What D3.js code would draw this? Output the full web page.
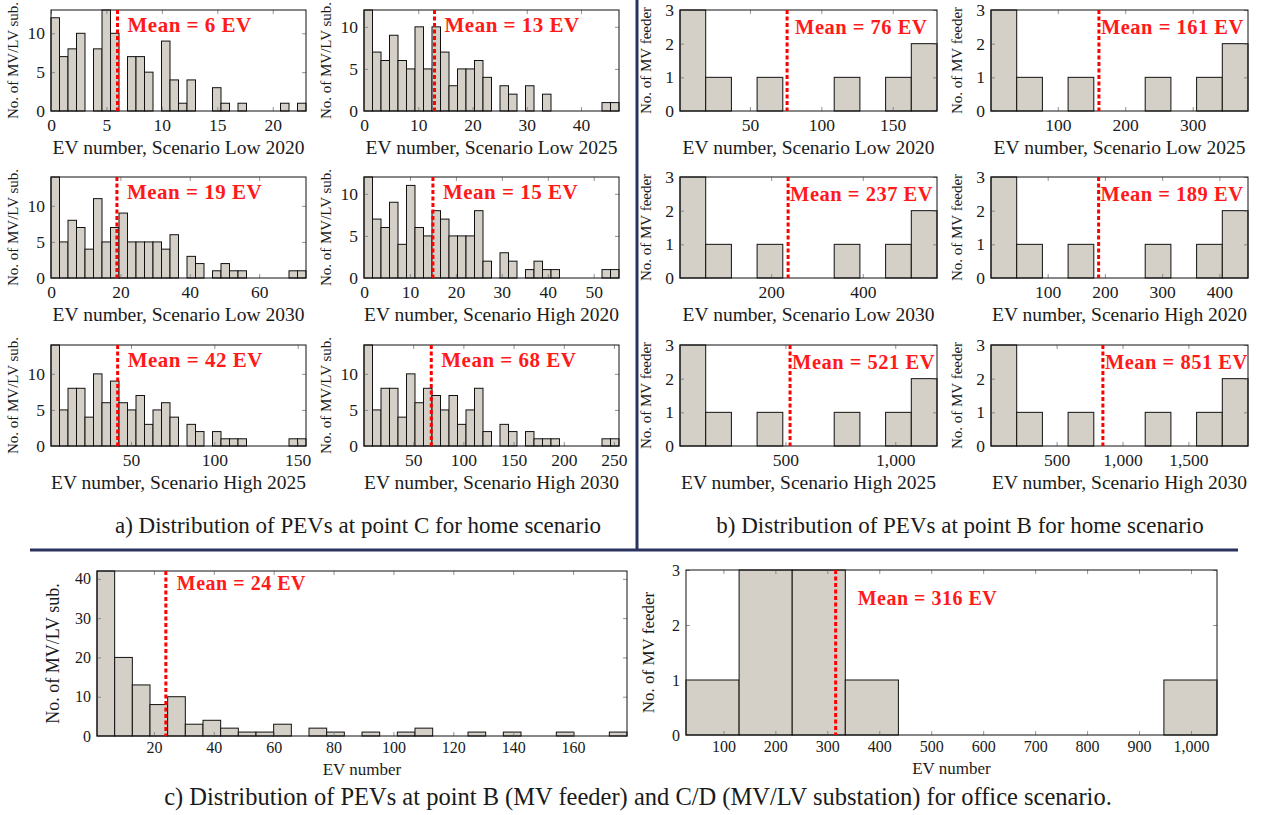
<!DOCTYPE html>
<html>
<head>
<meta charset="utf-8">
<script src="https://cdn.jsdelivr.net/npm/d3@7"></script>
<style>
  body { margin: 0; background: #fff; }
  text { font-family: "Liberation Serif", "Times New Roman", serif; fill: #1a1a1a; }
</style>
</head>
<body>
<div id="chart"></div>
<script>
// bin counts; bins are equal width between the data min and max

var scenarios = ["Low 2020", "Low 2025", "Low 2030", "High 2020", "High 2025", "High 2030"];

// a) point C, home scenario - 30 bins
var cLow2020  = [12, 7, 8, 10, 0, 8, 13, 10, 0, 7, 7, 5, 0, 9, 4, 1, 4, 0, 0, 3, 1, 0, 1, 0, 0, 0, 0, 1, 0, 1];
var cLow2025  = [12, 7, 6, 9, 6, 5, 10, 5, 10, 7, 3, 5, 5, 6, 4, 0, 3, 2, 0, 3, 0, 2, 0, 0, 0, 0, 0, 0, 1, 1];
var cLow2030  = [14, 5, 8, 7, 4, 11, 5, 7, 9, 5, 5, 5, 5, 4, 6, 0, 3, 2, 0, 1, 2, 1, 1, 0, 0, 0, 0, 0, 1, 1];
var cHigh2020 = [12, 7, 6, 9, 4, 11, 6, 5, 8, 7, 5, 5, 5, 8, 2, 0, 3, 2, 0, 1, 2, 1, 1, 0, 0, 0, 0, 0, 1, 1];
var cHigh2025 = [14, 5, 8, 8, 4, 10, 6, 9, 6, 5, 7, 3, 5, 6, 4, 0, 3, 2, 0, 2, 1, 1, 1, 0, 0, 0, 0, 0, 1, 1];
var cHigh2030 = [14, 5, 8, 8, 4, 10, 6, 8, 7, 5, 7, 3, 5, 8, 2, 0, 3, 2, 0, 2, 1, 1, 1, 0, 0, 0, 0, 0, 1, 1];
var cExtent = [[0, 23], [0, 47], [0, 73.5], [0, 55.5], [2, 155], [1, 255]];
var cMeans = [6, 13, 19, 15, 42, 68];
var cXTicks = [[0, 5, 10, 15, 20], [0, 10, 20, 30, 40], [0, 20, 40, 60], [0, 10, 20, 30, 40, 50], [50, 100, 150], [50, 100, 150, 200, 250]];
var cYTicks = [0, 5, 10];

// b) point B, home scenario - 10 bins
var bLow2020  = [3, 1, 0, 1, 0, 0, 1, 0, 1, 2];
var bLow2025  = [3, 1, 0, 1, 0, 0, 1, 0, 1, 2];
var bLow2030  = [3, 1, 0, 1, 0, 0, 1, 0, 1, 2];
var bHigh2020 = [3, 1, 0, 1, 0, 0, 1, 0, 1, 2];
var bHigh2025 = [3, 1, 0, 1, 0, 0, 1, 0, 1, 2];
var bHigh2030 = [3, 1, 0, 1, 0, 0, 1, 0, 1, 2];
var bExtent = [[1, 181], [1, 382], [1, 562], [1, 450], [20, 1190], [2, 1952]];
var bMeans = [76, 161, 237, 189, 521, 851];
var bXTicks = [[50, 100, 150], [100, 200, 300], [200, 400], [100, 200, 300, 400], [500, 1000], [500, 1000, 1500]];
var bYTicks = [0, 1, 2, 3];

// c) office scenario
var officeSub = [42, 20, 13, 8, 10, 3, 4, 2, 1, 1, 3, 0, 2, 1, 0, 1, 0, 1, 2, 0, 0, 1, 0, 1, 0, 0, 1, 0, 0, 1];
var officeSubExtent = [1, 178];
var officeSubMean = 24;
var officeSubXTicks = [20, 40, 60, 80, 100, 120, 140, 160];
var officeSubYTicks = [0, 10, 20, 30, 40];

var officeFeeder = [1, 3, 3, 1, 0, 0, 0, 0, 0, 1];
var officeFeederExtent = [28, 1050];
var officeFeederMean = 316;
var officeFeederXTicks = [100, 200, 300, 400, 500, 600, 700, 800, 900, 1000];
var officeFeederYTicks = [0, 1, 2, 3];

var captions = [
    "a) Distribution of PEVs at point C for home scenario",
    "b) Distribution of PEVs at point B for home scenario",
    "c) Distribution of PEVs at point B (MV feeder) and C/D (MV/LV substation) for office scenario."
];

// ---- layout ----
var W = 1261, H = 815;
var svg = d3.select("#chart").append("svg")
    .attr("width", W)
    .attr("height", H);

var rowTops = [10, 177, 345];
var aCols = [51, 364], bCols = [680, 991];

// font sets for the small grids and the big office plots
var small = { tick: 17.5, title: 19.5, yTitle: 15, mean: 21, yTitleDx: -33, meanDx: 10, meanDy: 15, tickPad: 8, titleDy: 43 };
var big = { tick: 16, title: 17, yTitle: 18, mean: 20, yTitleDx: -38, meanDx: 11, meanDy: 12, tickPad: 6, titleDy: 39 };

var panels = [];
[cLow2020, cLow2025, cLow2030, cHigh2020, cHigh2025, cHigh2030].forEach(function (counts, i) {
    panels.push({
        counts: counts, extent: cExtent[i], mean: cMeans[i], xTicks: cXTicks[i], yTicks: cYTicks,
        xTitle: "EV number, Scenario " + scenarios[i], yTitle: "No. of MV/LV sub.",
        x: aCols[i % 2], y: rowTops[Math.floor(i / 2)], w: 255, h: 101, f: small
    });
});
[bLow2020, bLow2025, bLow2030, bHigh2020, bHigh2025, bHigh2030].forEach(function (counts, i) {
    panels.push({
        counts: counts, extent: bExtent[i], mean: bMeans[i], xTicks: bXTicks[i], yTicks: bYTicks,
        xTitle: "EV number, Scenario " + scenarios[i], yTitle: "No. of MV feeder",
        x: bCols[i % 2], y: rowTops[Math.floor(i / 2)], w: 257, h: 101,
        f: Object.assign({}, small, { yTitleDx: -29, yTitle: 15, mean: 20.5, meanDx: i == 0 ? 8 : 2, meanDy: 17 })
    });
});
panels.push({
    counts: officeSub, extent: officeSubExtent, mean: officeSubMean, xTicks: officeSubXTicks, yTicks: officeSubYTicks,
    xTitle: "EV number", yTitle: "No. of MV/LV sub.", x: 97, y: 571, w: 530, h: 165, f: big
});
panels.push({
    counts: officeFeeder, extent: officeFeederExtent, mean: officeFeederMean, xTicks: officeFeederXTicks, yTicks: officeFeederYTicks,
    xTitle: "EV number", yTitle: "No. of MV feeder", x: 686, y: 570, w: 531, h: 165,
    f: Object.assign({}, big, { yTitle: 17, yTitleDx: -32, meanDx: 22, meanDy: 28 })
});

var fmt = d3.format(",");

panels.forEach(function (p) {
    var g = svg.append("g").attr("transform", "translate(" + p.x + "," + p.y + ")");
    var x = d3.scaleLinear().domain(p.extent).range([0, p.w]);
    var y = d3.scaleLinear().domain([0, d3.max(p.counts)]).range([p.h, 0]);
    var step = (p.extent[1] - p.extent[0]) / p.counts.length;

    var bins = p.counts.map(function (c, i) {
        return { x0: p.extent[0] + i * step, x1: p.extent[0] + (i + 1) * step, c: c };
    });

    // bars
    g.selectAll("rect.bar")
        .data(bins.filter(function (d) { return d.c > 0; }))
        .enter().append("rect")
        .attr("class", "bar")
        .attr("x", function (d) { return x(d.x0); })
        .attr("y", function (d) { return y(d.c); })
        .attr("width", function (d) { return x(d.x1) - x(d.x0); })
        .attr("height", function (d) { return p.h - y(d.c); })
        .attr("fill", "#d4d0c8")
        .attr("stroke", "#111")
        .attr("stroke-width", 1);

    // axes, ticks pointing inward on all four sides
    var axes = [
        { ax: d3.axisBottom(x).tickValues(p.xTicks).tickFormat(fmt).tickPadding(p.f.tickPad), t: "translate(0," + p.h + ")" },
        { ax: d3.axisTop(x).tickValues(p.xTicks).tickFormat(""), t: null },
        { ax: d3.axisLeft(y).tickValues(p.yTicks).tickFormat(fmt).tickPadding(6), t: null },
        { ax: d3.axisRight(y).tickValues(p.yTicks).tickFormat(""), t: "translate(" + p.w + ",0)" }
    ];
    axes.forEach(function (a) {
        var ag = g.append("g")
            .call(a.ax.tickSize(-4));
        if (a.t) ag.attr("transform", a.t);
        ag.select(".domain").remove();
        ag.selectAll("line").attr("stroke", "#777").attr("stroke-width", 0.8);
        ag.selectAll("text")
            .style("font-size", p.f.tick + "px")
            .style("font-family", "'Liberation Serif', serif")
            .attr("fill", "#1a1a1a");
    });

    // frame
    g.append("rect")
        .attr("width", p.w).attr("height", p.h)
        .attr("fill", "none").attr("stroke", "#111").attr("stroke-width", 1);

    // mean line and label
    var mx = x(p.mean);
    g.append("line")
        .attr("x1", mx).attr("x2", mx)
        .attr("y1", 0).attr("y2", p.h)
        .attr("stroke", "#ff0000")
        .attr("stroke-width", 3)
        .attr("stroke-dasharray", "4,2.5");
    g.append("text")
        .attr("x", mx + p.f.meanDx)
        .attr("y", p.f.meanDy)
        .attr("dy", "0.35em")
        .style("font-size", p.f.mean + "px")
        .style("font-weight", "bold")
        .style("letter-spacing", "0.5px")
        .style("fill", "#ff1a1a")
        .text("Mean = " + p.mean + " EV");

    // axis titles
    g.append("text")
        .attr("x", p.w / 2)
        .attr("y", p.h + p.f.titleDy)
        .attr("text-anchor", "middle")
        .style("font-size", p.f.title + "px")
        .text(p.xTitle);
    g.append("text")
        .attr("transform", "translate(" + p.f.yTitleDx + "," + p.h / 2 + ") rotate(-90)")
        .attr("text-anchor", "middle")
        .style("font-size", p.f.yTitle + "px")
        .text(p.yTitle);
});

// sub-figure captions
svg.append("text").attr("x", 358).attr("y", 533).attr("text-anchor", "middle")
    .style("font-size", "23px").text(captions[0]);
svg.append("text").attr("x", 960).attr("y", 533).attr("text-anchor", "middle")
    .style("font-size", "23px").text(captions[1]);
svg.append("text").attr("x", 638).attr("y", 805).attr("text-anchor", "middle")
    .style("font-size", "24.5px").text(captions[2]);

// separators
svg.append("line")
    .attr("x1", 637).attr("x2", 637).attr("y1", 0).attr("y2", 550)
    .attr("stroke", "#2b3360").attr("stroke-width", 3);
svg.append("line")
    .attr("x1", 30).attr("x2", 1238).attr("y1", 550).attr("y2", 550)
    .attr("stroke", "#2b3360").attr("stroke-width", 3);
</script>
</body>
</html>
